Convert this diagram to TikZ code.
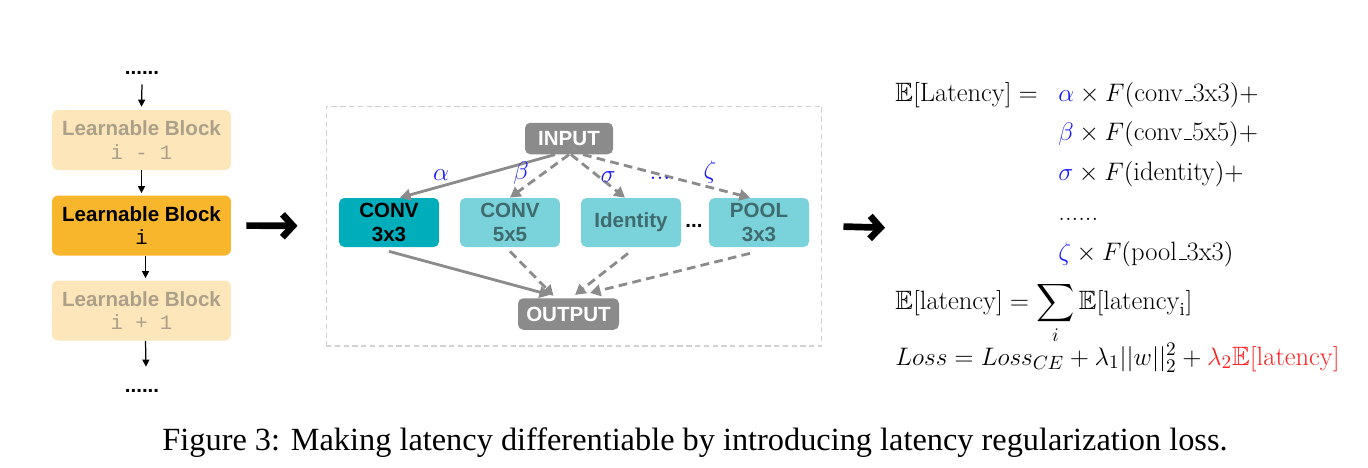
\documentclass[tikz,border=0pt]{standalone}
\usepackage{fontspec}
\usepackage{amsmath}
\usepackage{amssymb}
\usetikzlibrary{arrows.meta,positioning}
\newfontfamily\blockfont{Liberation Sans}
\newfontfamily\codefont{Liberation Mono}
\newfontfamily\capfont{Liberation Serif}
\newcommand\blocktext{\blockfont\bfseries\fontsize{11.7}{13.6}\selectfont}
\newcommand\eqtext{\fontsize{15.1}{18}\selectfont}
\newcommand\shortbar{\kern.06em\vbox{\hrule width.3em}}
\definecolor{paleorange}{HTML}{FCE6BA}
\definecolor{paletext}{HTML}{ADA08A}
\definecolor{deeporange}{HTML}{F8B62D}
\definecolor{deepteal}{HTML}{00AEBB}
\definecolor{paleteal}{HTML}{7AD3DA}
\definecolor{tealtext}{HTML}{3F6A6E}
\definecolor{boxgray}{HTML}{8B8B8B}
\definecolor{coefblue}{HTML}{1A1AFF}
\definecolor{lossred}{HTML}{FF1F1F}

\begin{document}
\begin{tikzpicture}[x=0.02cm,y=-0.02cm,
  block/.style={rounded corners=3.5pt, minimum width=3.58cm, minimum height=1.2cm,
    align=center, inner sep=0pt, font=\blocktext},
  opbox/.style={rounded corners=3pt, minimum width=2cm, minimum height=0.98cm,
    align=center, inner sep=0pt, font=\blocktext, fill=paleteal, text=tealtext},
  endbox/.style={rounded corners=3pt, minimum height=0.63cm, inner sep=0pt,
    font=\blocktext, fill=boxgray, text=white},
  link/.style={line width=0.7pt, -{Triangle[length=4pt,width=4pt]}},
  flow/.style={draw=boxgray, line width=1.6pt, -{Triangle[length=6pt,width=6.5pt]}},
  skip/.style={flow, dash pattern=on 5pt off 3pt},
  bigarrow/.style={line width=3.8pt, -{Straight Barb[length=6pt,width=13pt]}},
  coef/.style={text=coefblue, font=\eqtext},
  eq/.style={anchor=base west, inner sep=0pt, font=\eqtext}]
  \useasboundingbox (0,0) rectangle (1368,467);

  % layer stack
  \node[anchor=base, inner sep=0pt, font=\blocktext] (dotsTop) at (142,74) {......};
  \node[block, fill=paleorange, text=paletext] (blk1) at (141.5,140) {Learnable Block\\{\codefont\mdseries i - 1}};
  \node[block, fill=deeporange] (blk2) at (141.5,225.5) {Learnable Block\\{\codefont\mdseries i}};
  \node[block, fill=paleorange, text=paletext] (blk3) at (141.5,310.5) {Learnable Block\\{\codefont\mdseries i + 1}};
  \node[anchor=base, inner sep=0pt, font=\blocktext] (dotsBot) at (142,392) {......};

  \draw[link] ([yshift=-0.2cm]dotsTop.south) -- ([yshift=0.06cm]blk1.north);
  \draw[link] (blk1.south) -- ([yshift=0.04cm]blk2.north);
  \draw[link] ([xshift=0.08cm]blk2.south) -- ([xshift=0.08cm,yshift=0.04cm]blk3.north);
  \draw[link] ([xshift=0.08cm]blk3.south) -- ([xshift=0.08cm,yshift=0.44cm]dotsBot.north);

  % candidate operations
  \node[draw=gray!35, densely dashed, line width=0.6pt, minimum width=9.92cm,
    minimum height=4.8cm, inner sep=0pt] (frame) at (574,226) {};
  \node[endbox, minimum width=1.76cm] (input) at (569,138.5) {INPUT};
  \node[opbox, fill=deepteal, text=black] (c33) at (389,222.5) {CONV\\3x3};
  \node[opbox] (c55) at (510,222.5) {CONV\\5x5};
  \node[opbox] (ident) at (631,222.5) {Identity};
  \node[font=\blocktext, inner sep=0pt] (gap) at (694,226) {...};
  \node[opbox] (pool) at (759,222.5) {POOL\\3x3};
  \node[endbox, minimum width=2.02cm] (output) at (568.5,314) {OUTPUT};

  \draw[flow] ([xshift=-0.28cm]input.south) -- ([xshift=0.22cm]c33.north);
  \draw[skip] (input.south) -- (c55.north);
  \draw[skip] ([xshift=0.04cm]input.south) -- ([xshift=-0.12cm]ident.north);
  \draw[skip] ([xshift=0.28cm]input.south) -- ([xshift=-0.18cm]pool.north);

  \draw[flow] ([yshift=-0.08cm]c33.south) -- ([xshift=-0.37cm,yshift=0.06cm]output.north);
  \draw[skip] ([yshift=-0.08cm]c55.south) -- ([xshift=-0.3cm,yshift=0.04cm]output.north);
  \draw[skip] ([xshift=-0.06cm,yshift=-0.12cm]ident.south) -- ([xshift=0.13cm,yshift=0.06cm]output.north);
  \draw[skip] ([xshift=-0.18cm,yshift=-0.12cm]pool.south) -- ([xshift=0.43cm,yshift=0.1cm]output.north);

  \node[coef] (wA) at (441,175) {$\alpha$};
  \node[coef] (wB) at (521,173) {$\beta$};
  \node[coef] (wC) at (608,177) {$\sigma$};
  \node[coef] (wD) at (660,178) {$...$};
  \node[coef] (wZ) at (710,172) {$\zeta$};

  % latency terms
  \coordinate (eqleft) at (895,228);
  \draw[bigarrow, shorten <=0.3cm, shorten >=0.56cm] (blk2.east) -- (frame.west);
  \draw[bigarrow, shorten <=0.42cm, shorten >=0.2cm] (frame.east) -- (eqleft);

  \node[eq] (eqA) at (895,101) {$\mathbb{E}[\mathrm{Latency}] =$};
  \node[eq] (eqA2) at (1058,101) {$\textcolor{coefblue}{\alpha}\times F(\text{conv\shortbar 3x3}){+}$};
  \node[eq] (eqB) at (1058,140) {$\textcolor{coefblue}{\beta}\times F(\text{conv\shortbar 5x5}){+}$};
  \node[eq] (eqC) at (1058,180) {$\textcolor{coefblue}{\sigma}\times F(\text{identity}){+}$};
  \node[eq] (eqD) at (1058,220) {......};
  \node[eq] (eqE) at (1058,260) {$\textcolor{coefblue}{\zeta}\times F(\text{pool\shortbar 3x3})$};
  \node[eq] (eqF) at (895,309) {$\mathbb{E}[\mathrm{latency}] = \displaystyle\sum_i \mathbb{E}[\mathrm{latency}_\mathrm{i}]$};
  \node[eq] (eqG) at (895,365) {$Loss = Loss_{CE} + \lambda_1 ||w||_2^2 + \textcolor{lossred}{\lambda_2\mathbb{E}[\mathrm{latency}]}$};

  \node[anchor=base, inner sep=0pt, font=\capfont\fontsize{18.4}{21}\selectfont] (caption) at (695,450)
    {Figure 3: Making latency differentiable by introducing latency regularization loss.};
\end{tikzpicture}
\end{document}
